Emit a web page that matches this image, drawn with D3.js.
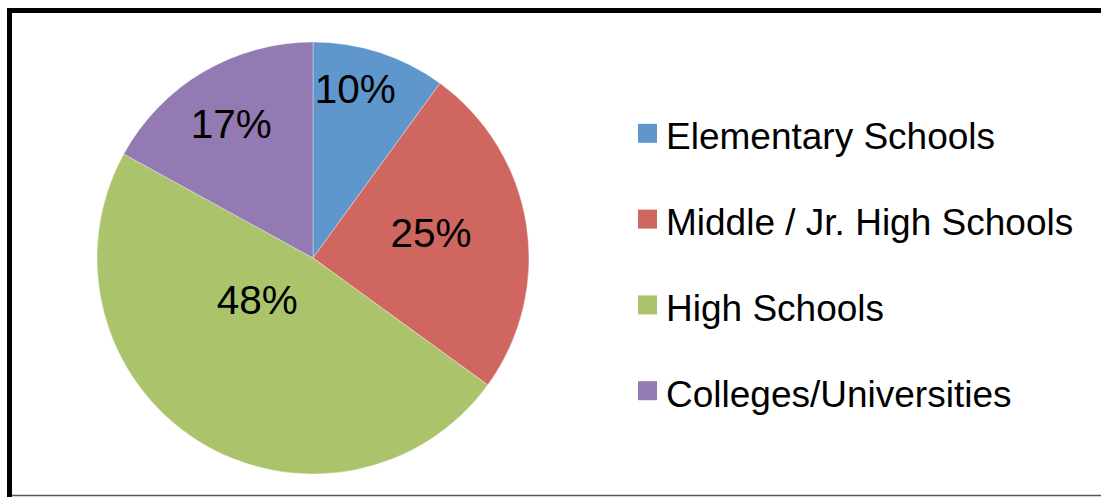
<!DOCTYPE html>
<html>
<head>
<meta charset="utf-8">
<script src="https://cdn.jsdelivr.net/npm/d3@7"></script>
<style>
  html, body { margin: 0; padding: 0; background: #fff; }
  svg { display: block; }
  text { font-family: "Liberation Sans", Arial, sans-serif; fill: #000; }
</style>
</head>
<body>
<svg id="chart" width="1101" height="497"></svg>
<script>
const categories = ["Elementary Schools", "Middle / Jr. High Schools", "High Schools", "Colleges/Universities"];
const values = [10, 25, 48, 17];
const labels = ["10%", "25%", "48%", "17%"];
const colors = ["#5F96CB", "#CF665F", "#ABC46B", "#937AB2"];

const svg = d3.select("#chart");
const W = 1101, H = 497;

// frame
svg.append("rect").attr("x", 0).attr("y", 0).attr("width", W).attr("height", H).attr("fill", "#fff");
svg.append("line").attr("x1", 9.5).attr("x2", 9.5).attr("y1", 8).attr("y2", H).attr("stroke", "#000").attr("stroke-width", 5);
svg.append("line").attr("x1", 7).attr("x2", W).attr("y1", 10.5).attr("y2", 10.5).attr("stroke", "#000").attr("stroke-width", 5);
svg.append("line").attr("x1", 12).attr("x2", W).attr("y1", 495.5).attr("y2", 495.5).attr("stroke", "#555").attr("stroke-width", 1.5);

// pie
const cx = 313, cy = 258, R = 216;
const pie = d3.pie().sort(null).value(d => d);
const arcs = pie(values);
const arc = d3.arc().innerRadius(0).outerRadius(R);
const g = svg.append("g").attr("transform", `translate(${cx},${cy})`);
g.selectAll("path").data(arcs).join("path")
  .attr("d", arc)
  .attr("fill", (d, i) => colors[i])
  .attr("stroke", "rgba(255,255,255,0.35)")
  .attr("stroke-width", 1);

// label layout (best-fit style): angle shift from mid-angle (deg) and radius
const labelShift = [-4, -3.6, 21.6, -0.6];
const labelRadius = [175, 121, 69, 158];
const pos = (d, i) => {
  const a = (d.startAngle + d.endAngle) / 2 + labelShift[i] * Math.PI / 180;
  return [Math.sin(a) * labelRadius[i], -Math.cos(a) * labelRadius[i]];
};
g.selectAll("text.lbl").data(arcs).join("text")
  .attr("class", "lbl")
  .attr("text-anchor", "middle")
  .attr("font-size", 40.5)
  .attr("x", (d, i) => pos(d, i)[0])
  .attr("y", (d, i) => pos(d, i)[1] + 15)
  .text((d, i) => labels[i]);

// legend
const legendY = d3.scalePoint().domain(categories).range([149.3, 406.7]);
const lg = svg.append("g");
const items = lg.selectAll("g").data(categories).join("g")
  .attr("transform", d => `translate(638,${legendY(d)})`);
items.append("rect")
  .attr("x", 0).attr("y", -25.5).attr("width", 19).attr("height", 19)
  .attr("fill", (d, i) => colors[i]);
items.append("text")
  .attr("x", 28).attr("y", 0)
  .attr("font-size", 37)
  .text(d => d);
</script>
</body>
</html>
